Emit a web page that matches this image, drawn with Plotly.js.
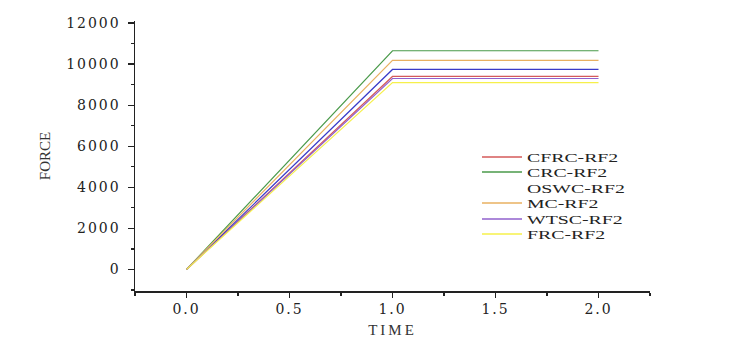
<!DOCTYPE html>
<html>
<head>
<meta charset="utf-8">
<script src="https://cdn.plot.ly/plotly-3.0.1.min.js"></script>
<style>
  html, body { margin: 0; padding: 0; background: #fff; }
  #chart { width: 755px; height: 352px; }
  .xtick text, .ytick text { letter-spacing: 2px; }
  .g-xtitle text { letter-spacing: 3px; }
</style>
</head>
<body>
<div id="chart"></div>
<script>
// ---- data ----
const time = [0, 1, 2];
const seriesNames = ['CFRC-RF2', 'CRC-RF2', 'OSWC-RF2', 'MC-RF2', 'WTSC-RF2', 'FRC-RF2'];
const cfrc = [0, 9400, 9400];
const crc  = [0, 10650, 10650];
const oswc = [0, 9740, 9740];
const mc   = [0, 10180, 10180];
const wtsc = [0, 9300, 9300];
const frc  = [0, 9100, 9100];
const xTickVals = [0, 0.5, 1, 1.5, 2];
const xTickText = ['0.0', '0.5', '1.0', '1.5', '2.0'];
const yTickVals = [0, 2000, 4000, 6000, 8000, 10000, 12000];
const yTickText = ['0', '2000', '4000', '6000', '8000', '10000', '12000'];

const seriesValues = [cfrc, crc, oswc, mc, wtsc, frc];
const colors = ['#d45a5a', '#4a9a4a', '#3a3ac8', '#e8b060', '#9060cc', '#f6f04a'];

const data = seriesValues.map((vals, i) => ({
  type: 'scatter',
  mode: 'lines',
  x: time,
  y: vals,
  name: seriesNames[i],
  line: { color: colors[i], width: 1.2 }
}));

const layout = {
  width: 755,
  height: 352,
  margin: { l: 135, r: 105, t: 21, b: 61 },
  paper_bgcolor: '#ffffff',
  plot_bgcolor: '#ffffff',
  showlegend: true,
  legend: {
    x: 0.664, xanchor: 'left', y: 0.55, yanchor: 'top',
    bgcolor: 'rgba(0,0,0,0)', borderwidth: 0,
    itemwidth: 40,
    font: { family: 'Liberation Serif, Times New Roman, serif', size: 12, color: '#222' }
  },
  xaxis: {
    range: [-0.25, 2.25],
    tickvals: xTickVals, ticktext: xTickText,
    ticks: 'outside', ticklen: 5, tickwidth: 1.3, tickcolor: '#222',
    minor: { dtick: 0.25, tick0: 0, ticks: 'outside', ticklen: 3, tickwidth: 1.3, tickcolor: '#222' },
    showline: true, linecolor: '#222', linewidth: 1.5,
    showgrid: false, zeroline: false,
    tickfont: { family: 'DejaVu Serif, serif', size: 14, color: '#222' },
    title: { text: 'TIME', standoff: 8, font: { family: 'Liberation Serif, serif', size: 15, color: '#333' } }
  },
  yaxis: {
    range: [-1050, 12100],
    tickvals: yTickVals, ticktext: yTickText,
    ticks: 'outside', ticklen: 6, tickwidth: 1.3, tickcolor: '#222',
    ticklabelstandoff: 4,
    minor: { dtick: 1000, tick0: 0, ticks: 'outside', ticklen: 3, tickwidth: 1.3, tickcolor: '#222' },
    showline: true, linecolor: '#222', linewidth: 1.5,
    showgrid: false, zeroline: false,
    tickfont: { family: 'DejaVu Serif, serif', size: 14, color: '#222' },
    title: { text: 'FORCE', standoff: 12, font: { family: 'Liberation Serif, serif', size: 15, color: '#333' } }
  }
};

const gd = document.getElementById('chart');
Plotly.newPlot(gd, data, layout, { staticPlot: true, displayModeBar: false }).then(() => {
  const legend = gd.querySelector('.legend');
  if (!legend) return;
  legend.querySelectorAll('[clip-path]').forEach(el => el.removeAttribute('clip-path'));
  const m = /translate\(\s*([-\d.]+)[ ,]+([-\d.]+)/.exec(legend.getAttribute('transform') || '');
  const lx = m ? parseFloat(m[1]) : 0;
  const ly = m ? parseFloat(m[2]) : 0;
  const items = legend.querySelectorAll('.traces');
  items.forEach((g, i) => {
    const yAbs = Math.round(157 + i * 15.4);
    g.setAttribute('transform', 'translate(' + (477 - lx) + ',' + (yAbs - ly) + ')');
    const t = g.querySelector('.legendtext');
    if (t) {
      const tx = parseFloat(t.getAttribute('x') || '0');
      t.setAttribute('transform', 'translate(' + tx + ',0) scale(1.65,1) translate(' + (-tx) + ',0)');
    }
    g.querySelectorAll('path.js-line').forEach(p => {
      p.style.strokeWidth = '1.6px';
      if (i === 2) p.style.strokeOpacity = 0;
    });
  });
});
</script>
</body>
</html>
